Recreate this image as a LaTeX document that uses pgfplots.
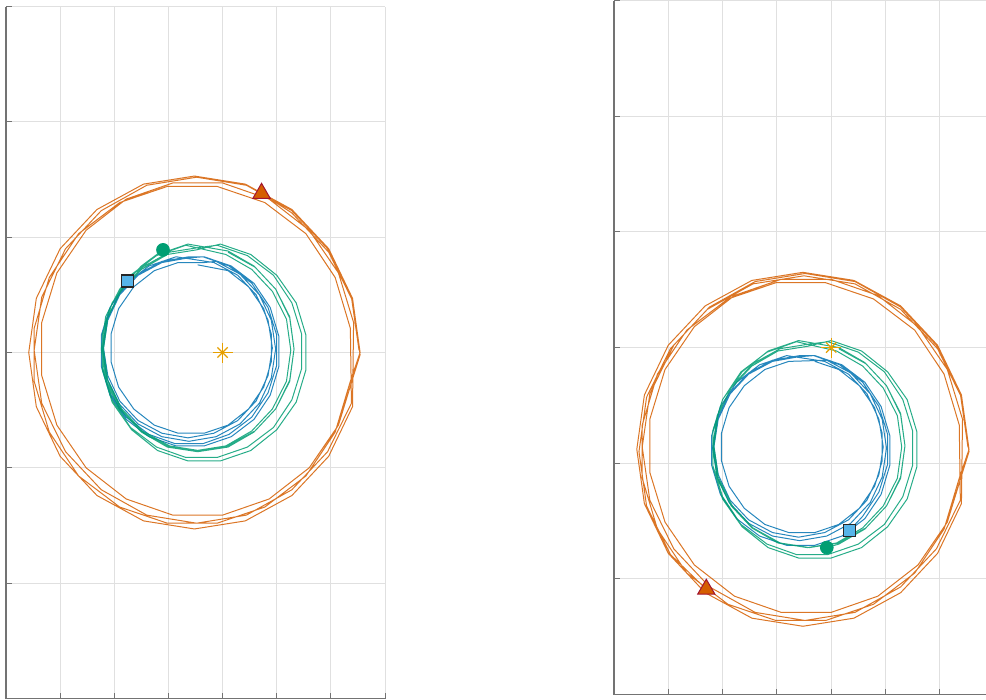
\documentclass[border=0pt]{standalone}
\usepackage{pgfplots}
\pgfplotsset{compat=1.18}

\definecolor{cblue}{RGB}{0,114,178}
\definecolor{corange}{RGB}{213,94,0}
\definecolor{cgreen}{RGB}{0,158,115}
\definecolor{csky}{RGB}{86,180,233}
\definecolor{cstar}{RGB}{230,159,0}
\definecolor{cedge}{RGB}{162,20,47}
\definecolor{axgray}{RGB}{115,115,115}
\definecolor{gridgray}{RGB}{224,224,224}

\pgfplotsset{
  orbitpanel/.style={
    scale only axis,
    xmin=-2, xmax=1.5, ymin=-3, ymax=3,
    xtick={-2,-1.5,-1,-0.5,0,0.5,1,1.5},
    ytick={-3,-2,-1,0,1,2,3},
    xticklabels={}, yticklabels={},
    xtick pos=left, ytick pos=left,
    axis x line*=bottom, axis y line*=left,
    axis line style={line width=0.8pt, color=axgray},
    tick style={line width=0.5pt, color=axgray},
    tick align=inside, major tick length=3pt,
    grid=major,
    major grid style={line width=0.5pt, color=gridgray},
    clip=false,
  },
  path1/.style={cblue, line width=0.5pt, line join=round, opacity=0.85},
  path2/.style={corange, line width=0.5pt, line join=round, opacity=0.85},
  path3/.style={cgreen, line width=0.5pt, line join=round, opacity=0.85},
  body1/.style={only marks, mark=square*, mark size=3pt,
    mark options={fill=csky, draw=black!85, line width=0.6pt}},
  body2/.style={only marks, mark=triangle*, mark size=5pt,
    mark options={fill=corange, draw=cedge, line width=0.5pt}},
  body3/.style={only marks, mark=*, mark size=3.2pt,
    mark options={fill=cgreen, draw=cgreen}},
  starplus/.style={only marks, mark=+, mark size=5pt,
    mark options={draw=cstar, line width=0.6pt}},
  starcross/.style={only marks, mark=x, mark size=3.6pt,
    mark options={draw=cstar, line width=0.6pt}},
}

\begin{document}
\begin{tikzpicture}

% ---------- first snapshot ----------
\begin{axis}[orbitpanel, at={(3pt,-349.25pt)}, anchor=south west,
  width=189.5pt, height=346pt]
\addplot[path1] coordinates {
(-0.23,0.76)
(0.05,0.71) (0.24,0.57) (0.38,0.38) (0.45,0.16) (0.45,-0.08) (0.38,-0.30) (0.24,-0.49) (0.05,-0.63) (-0.17,-0.70) (-0.41,-0.70) (-0.63,-0.63) (-0.82,-0.49) (-0.96,-0.30) (-1.03,-0.08) (-1.03,0.16) (-0.96,0.38) (-0.82,0.57) (-0.63,0.71) (-0.41,0.78) (-0.17,0.78)
(-0.06,0.79) (0.16,0.68) (0.34,0.50) (0.45,0.28) (0.49,0.03) (0.45,-0.22) (0.34,-0.44) (0.16,-0.62) (-0.06,-0.73) (-0.31,-0.77) (-0.56,-0.73) (-0.78,-0.62) (-0.96,-0.44) (-1.07,-0.22) (-1.11,0.03) (-1.07,0.28) (-0.96,0.50) (-0.78,0.68) (-0.56,0.79) (-0.31,0.83)
(-0.17,0.83) (0.08,0.75) (0.29,0.60) (0.44,0.39) (0.52,0.14) (0.52,-0.12) (0.44,-0.37) (0.29,-0.58) (0.08,-0.73) (-0.17,-0.81) (-0.43,-0.81) (-0.68,-0.73) (-0.89,-0.58) (-1.04,-0.37) (-1.12,-0.12) (-1.12,0.14) (-1.04,0.39) (-0.89,0.60) (-0.68,0.75) (-0.43,0.83)
(-0.08,0.78) (0.14,0.67) (0.31,0.50) (0.42,0.28) (0.46,0.04) (0.42,-0.20) (0.31,-0.42) (0.14,-0.59) (-0.08,-0.70) (-0.32,-0.74) (-0.56,-0.70) (-0.78,-0.59) (-0.95,-0.42) (-1.06,-0.20) (-1.10,0.04) (-1.06,0.28) (-0.95,0.50) (-0.78,0.67) (-0.56,0.78) (-0.32,0.82)
(-0.18,0.83) (0.06,0.75) (0.27,0.60) (0.42,0.39) (0.50,0.15) (0.50,-0.11) (0.42,-0.35) (0.27,-0.56) (0.06,-0.71) (-0.18,-0.79) (-0.44,-0.79) (-0.68,-0.71) (-0.89,-0.56) (-1.04,-0.35) (-1.12,-0.11) (-1.12,0.15) (-1.04,0.39) (-0.88,0.62)
};
\addplot[path2] coordinates {
(1.26,0.02) (1.19,0.48) (0.97,0.90) (0.64,1.23) (0.22,1.45) (-0.24,1.52) (-0.70,1.45) (-1.12,1.23) (-1.45,0.90) (-1.67,0.48) (-1.74,0.02) (-1.67,-0.44) (-1.45,-0.86) (-1.12,-1.19) (-0.70,-1.41) (-0.24,-1.48) (0.22,-1.41) (0.64,-1.19) (0.97,-0.86) (1.19,-0.44)
(1.18,0.21) (1.04,0.65) (0.77,1.03) (0.39,1.30) (-0.05,1.44) (-0.51,1.44) (-0.95,1.30) (-1.33,1.03) (-1.60,0.65) (-1.74,0.21) (-1.74,-0.25) (-1.60,-0.69) (-1.33,-1.07) (-0.95,-1.34) (-0.51,-1.48) (-0.05,-1.48) (0.39,-1.34) (0.77,-1.07) (1.04,-0.69) (1.18,-0.25)
(1.27,0.00) (1.20,0.47) (0.98,0.90) (0.64,1.24) (0.21,1.46) (-0.26,1.53) (-0.73,1.46) (-1.16,1.24) (-1.50,0.90) (-1.72,0.47) (-1.79,0.00) (-1.72,-0.47) (-1.50,-0.90) (-1.16,-1.24) (-0.73,-1.46) (-0.26,-1.53) (0.21,-1.46) (0.64,-1.24) (0.98,-0.90) (1.20,-0.47)
(1.21,0.26) (1.07,0.69) (0.80,1.06) (0.43,1.33) (0.00,1.47) (-0.46,1.47) (-0.89,1.33) (-1.26,1.06) (-1.53,0.69) (-1.67,0.26) (-1.67,-0.20) (-1.53,-0.63) (-1.26,-1.00) (-0.89,-1.27) (-0.46,-1.41) (0.00,-1.41) (0.43,-1.27) (0.80,-1.00) (1.07,-0.63) (1.21,-0.20)
(1.27,-0.02) (1.20,0.45) (0.98,0.87) (0.64,1.21) (0.36,1.38)
};
\addplot[path3] coordinates {
(0.05,0.87) (0.30,0.74) (0.49,0.55) (0.62,0.30) (0.66,0.03) (0.62,-0.24) (0.49,-0.49) (0.30,-0.68) (0.05,-0.81) (-0.22,-0.85) (-0.49,-0.81) (-0.74,-0.68) (-0.93,-0.49) (-1.06,-0.24) (-1.10,0.03) (-1.06,0.30) (-0.93,0.55) (-0.74,0.74) (-0.49,0.87) (-0.22,0.91)
(-0.05,0.93) (0.23,0.84) (0.47,0.67) (0.64,0.43) (0.73,0.16) (0.73,-0.14) (0.64,-0.41) (0.47,-0.65) (0.23,-0.82) (-0.05,-0.91) (-0.34,-0.91) (-0.61,-0.82) (-0.85,-0.65) (-1.02,-0.41) (-1.11,-0.14) (-1.11,0.16) (-1.02,0.43) (-0.85,0.67) (-0.61,0.84) (-0.34,0.93)
(0.03,0.85) (0.27,0.72) (0.46,0.53) (0.59,0.29) (0.63,0.02) (0.59,-0.25) (0.46,-0.49) (0.27,-0.68) (0.03,-0.81) (-0.24,-0.85) (-0.51,-0.81) (-0.75,-0.68) (-0.94,-0.49) (-1.07,-0.25) (-1.11,0.02) (-1.07,0.29) (-0.94,0.53) (-0.75,0.72) (-0.51,0.85) (-0.24,0.89)
(-0.02,0.94) (0.26,0.85) (0.50,0.67) (0.68,0.43) (0.77,0.15) (0.77,-0.15) (0.68,-0.43) (0.50,-0.67) (0.26,-0.85) (-0.02,-0.94) (-0.32,-0.94) (-0.60,-0.85) (-0.84,-0.67) (-1.02,-0.43) (-1.11,-0.15) (-1.11,0.15) (-1.02,0.43) (-0.84,0.67) (-0.60,0.85) (-0.32,0.94)
(0.05,0.88) (0.29,0.75) (0.49,0.55) (0.62,0.31) (0.66,0.03) (0.62,-0.25) (0.49,-0.49) (0.29,-0.69) (0.05,-0.82) (-0.23,-0.86) (-0.51,-0.82) (-0.75,-0.69) (-0.95,-0.49) (-1.08,-0.25) (-1.12,0.03) (-1.08,0.31) (-0.95,0.55) (-0.75,0.75) (-0.55,0.89)
};
\addplot[body1] coordinates {(-0.88,0.62)};
\addplot[body2] coordinates {(0.36,1.38)};
\addplot[body3] coordinates {(-0.55,0.89)};
\addplot[starplus] coordinates {(0,0)};
\addplot[starcross] coordinates {(0,0)};
\end{axis}

% ---------- second snapshot ----------
\begin{axis}[orbitpanel, at={(307pt,-347.25pt)}, anchor=south west,
  width=190pt, height=347pt]
\addplot[path1] coordinates {
(-0.15,-0.12) (0.07,-0.19) (0.26,-0.33) (0.40,-0.52) (0.47,-0.74) (0.47,-0.98) (0.40,-1.20) (0.26,-1.39) (0.07,-1.53) (-0.15,-1.60) (-0.39,-1.60) (-0.61,-1.53) (-0.80,-1.39) (-0.94,-1.20) (-1.01,-0.98) (-1.01,-0.74) (-0.94,-0.52) (-0.80,-0.33) (-0.61,-0.19) (-0.39,-0.12)
(-0.04,-0.11) (0.18,-0.22) (0.36,-0.40) (0.47,-0.62) (0.51,-0.87) (0.47,-1.12) (0.36,-1.34) (0.18,-1.52) (-0.04,-1.63) (-0.29,-1.67) (-0.54,-1.63) (-0.76,-1.52) (-0.94,-1.34) (-1.05,-1.12) (-1.09,-0.87) (-1.05,-0.62) (-0.94,-0.40) (-0.76,-0.22) (-0.54,-0.11) (-0.29,-0.07)
(-0.15,-0.07) (0.10,-0.15) (0.31,-0.30) (0.46,-0.51) (0.54,-0.76) (0.54,-1.02) (0.46,-1.27) (0.31,-1.48) (0.10,-1.63) (-0.15,-1.71) (-0.41,-1.71) (-0.66,-1.63) (-0.87,-1.48) (-1.02,-1.27) (-1.10,-1.02) (-1.10,-0.76) (-1.02,-0.51) (-0.87,-0.30) (-0.66,-0.15) (-0.41,-0.07)
(-0.06,-0.12) (0.16,-0.23) (0.33,-0.40) (0.44,-0.62) (0.48,-0.86) (0.44,-1.10) (0.33,-1.32) (0.16,-1.49) (-0.06,-1.60) (-0.30,-1.64) (-0.54,-1.60) (-0.76,-1.49) (-0.93,-1.32) (-1.04,-1.10) (-1.08,-0.86) (-1.04,-0.62) (-0.93,-0.40) (-0.76,-0.23) (-0.54,-0.12) (-0.30,-0.08)
(-0.16,-0.07) (0.08,-0.15) (0.29,-0.30) (0.44,-0.51) (0.52,-0.75) (0.52,-1.01) (0.44,-1.25) (0.29,-1.46) (0.17,-1.58)
};
\addplot[path2] coordinates {
(1.26,-0.86) (1.19,-0.40) (0.97,0.02) (0.64,0.35) (0.22,0.57) (-0.24,0.64) (-0.70,0.57) (-1.12,0.35) (-1.45,0.02) (-1.67,-0.40) (-1.74,-0.86) (-1.67,-1.32) (-1.45,-1.74) (-1.12,-2.07) (-0.70,-2.29) (-0.24,-2.36) (0.22,-2.29) (0.64,-2.07) (0.97,-1.74) (1.19,-1.32)
(1.18,-0.67) (1.04,-0.23) (0.77,0.15) (0.39,0.42) (-0.05,0.56) (-0.51,0.56) (-0.95,0.42) (-1.33,0.15) (-1.60,-0.23) (-1.74,-0.67) (-1.74,-1.13) (-1.60,-1.57) (-1.33,-1.95) (-0.95,-2.22) (-0.51,-2.36) (-0.05,-2.36) (0.39,-2.22) (0.77,-1.95) (1.04,-1.57) (1.18,-1.13)
(1.27,-0.88) (1.20,-0.41) (0.98,0.02) (0.64,0.36) (0.21,0.58) (-0.26,0.65) (-0.73,0.58) (-1.16,0.36) (-1.50,0.02) (-1.72,-0.41) (-1.79,-0.88) (-1.72,-1.35) (-1.50,-1.78) (-1.16,-2.12) (-0.73,-2.34) (-0.26,-2.41) (0.21,-2.34) (0.64,-2.12) (0.98,-1.78) (1.20,-1.35)
(1.21,-0.62) (1.07,-0.19) (0.80,0.18) (0.43,0.45) (0.00,0.59) (-0.46,0.59) (-0.89,0.45) (-1.26,0.18) (-1.53,-0.19) (-1.67,-0.62) (-1.67,-1.08) (-1.53,-1.51) (-1.26,-1.88) (-0.89,-2.15) (-0.46,-2.29) (0.00,-2.29) (0.43,-2.15) (0.80,-1.88) (1.07,-1.51) (1.21,-1.08)
(1.27,-0.90) (1.20,-0.43) (0.98,-0.01) (0.64,0.33) (0.22,0.55) (-0.25,0.62) (-0.72,0.55) (-1.14,0.33) (-1.48,-0.01) (-1.70,-0.43) (-1.77,-0.90) (-1.70,-1.37) (-1.48,-1.79) (-1.15,-2.09)
};
\addplot[path3] coordinates {
(0.07,-0.01) (0.32,-0.14) (0.51,-0.33) (0.64,-0.58) (0.68,-0.85) (0.64,-1.12) (0.51,-1.37) (0.32,-1.56) (0.07,-1.69) (-0.20,-1.73) (-0.47,-1.69) (-0.72,-1.56) (-0.91,-1.37) (-1.04,-1.12) (-1.08,-0.85) (-1.04,-0.58) (-0.91,-0.33) (-0.72,-0.14) (-0.47,-0.01) (-0.20,0.03)
(-0.03,0.05) (0.25,-0.04) (0.49,-0.21) (0.66,-0.45) (0.75,-0.72) (0.75,-1.02) (0.66,-1.29) (0.49,-1.53) (0.25,-1.70) (-0.03,-1.79) (-0.32,-1.79) (-0.59,-1.70) (-0.83,-1.53) (-1.00,-1.29) (-1.09,-1.02) (-1.09,-0.72) (-1.00,-0.45) (-0.83,-0.21) (-0.59,-0.04) (-0.32,0.05)
(0.05,-0.03) (0.29,-0.16) (0.48,-0.35) (0.61,-0.59) (0.65,-0.86) (0.61,-1.13) (0.48,-1.37) (0.29,-1.56) (0.05,-1.69) (-0.22,-1.73) (-0.49,-1.69) (-0.73,-1.56) (-0.92,-1.37) (-1.05,-1.13) (-1.09,-0.86) (-1.05,-0.59) (-0.92,-0.35) (-0.73,-0.16) (-0.49,-0.03) (-0.22,0.01)
(0.00,0.06) (0.28,-0.03) (0.52,-0.21) (0.70,-0.45) (0.79,-0.73) (0.79,-1.03) (0.70,-1.31) (0.52,-1.55) (0.28,-1.73) (0.00,-1.82) (-0.30,-1.82) (-0.58,-1.73) (-0.82,-1.55) (-1.00,-1.31) (-1.09,-1.03) (-1.09,-0.73) (-1.00,-0.45) (-0.82,-0.21) (-0.58,-0.03) (-0.30,0.06)
(0.07,0.00) (0.31,-0.13) (0.51,-0.33) (0.64,-0.57) (0.68,-0.85) (0.64,-1.13) (0.51,-1.37) (0.31,-1.57) (0.07,-1.70) (-0.04,-1.73)
};
\addplot[body1] coordinates {(0.17,-1.58)};
\addplot[body2] coordinates {(-1.15,-2.09)};
\addplot[body3] coordinates {(-0.04,-1.73)};
\addplot[starplus] coordinates {(0,0)};
\addplot[starcross] coordinates {(0,0)};
\end{axis}

\pgfresetboundingbox
\path[use as bounding box] (0pt,0pt) rectangle (493pt,-350pt);
\end{tikzpicture}
\end{document}
